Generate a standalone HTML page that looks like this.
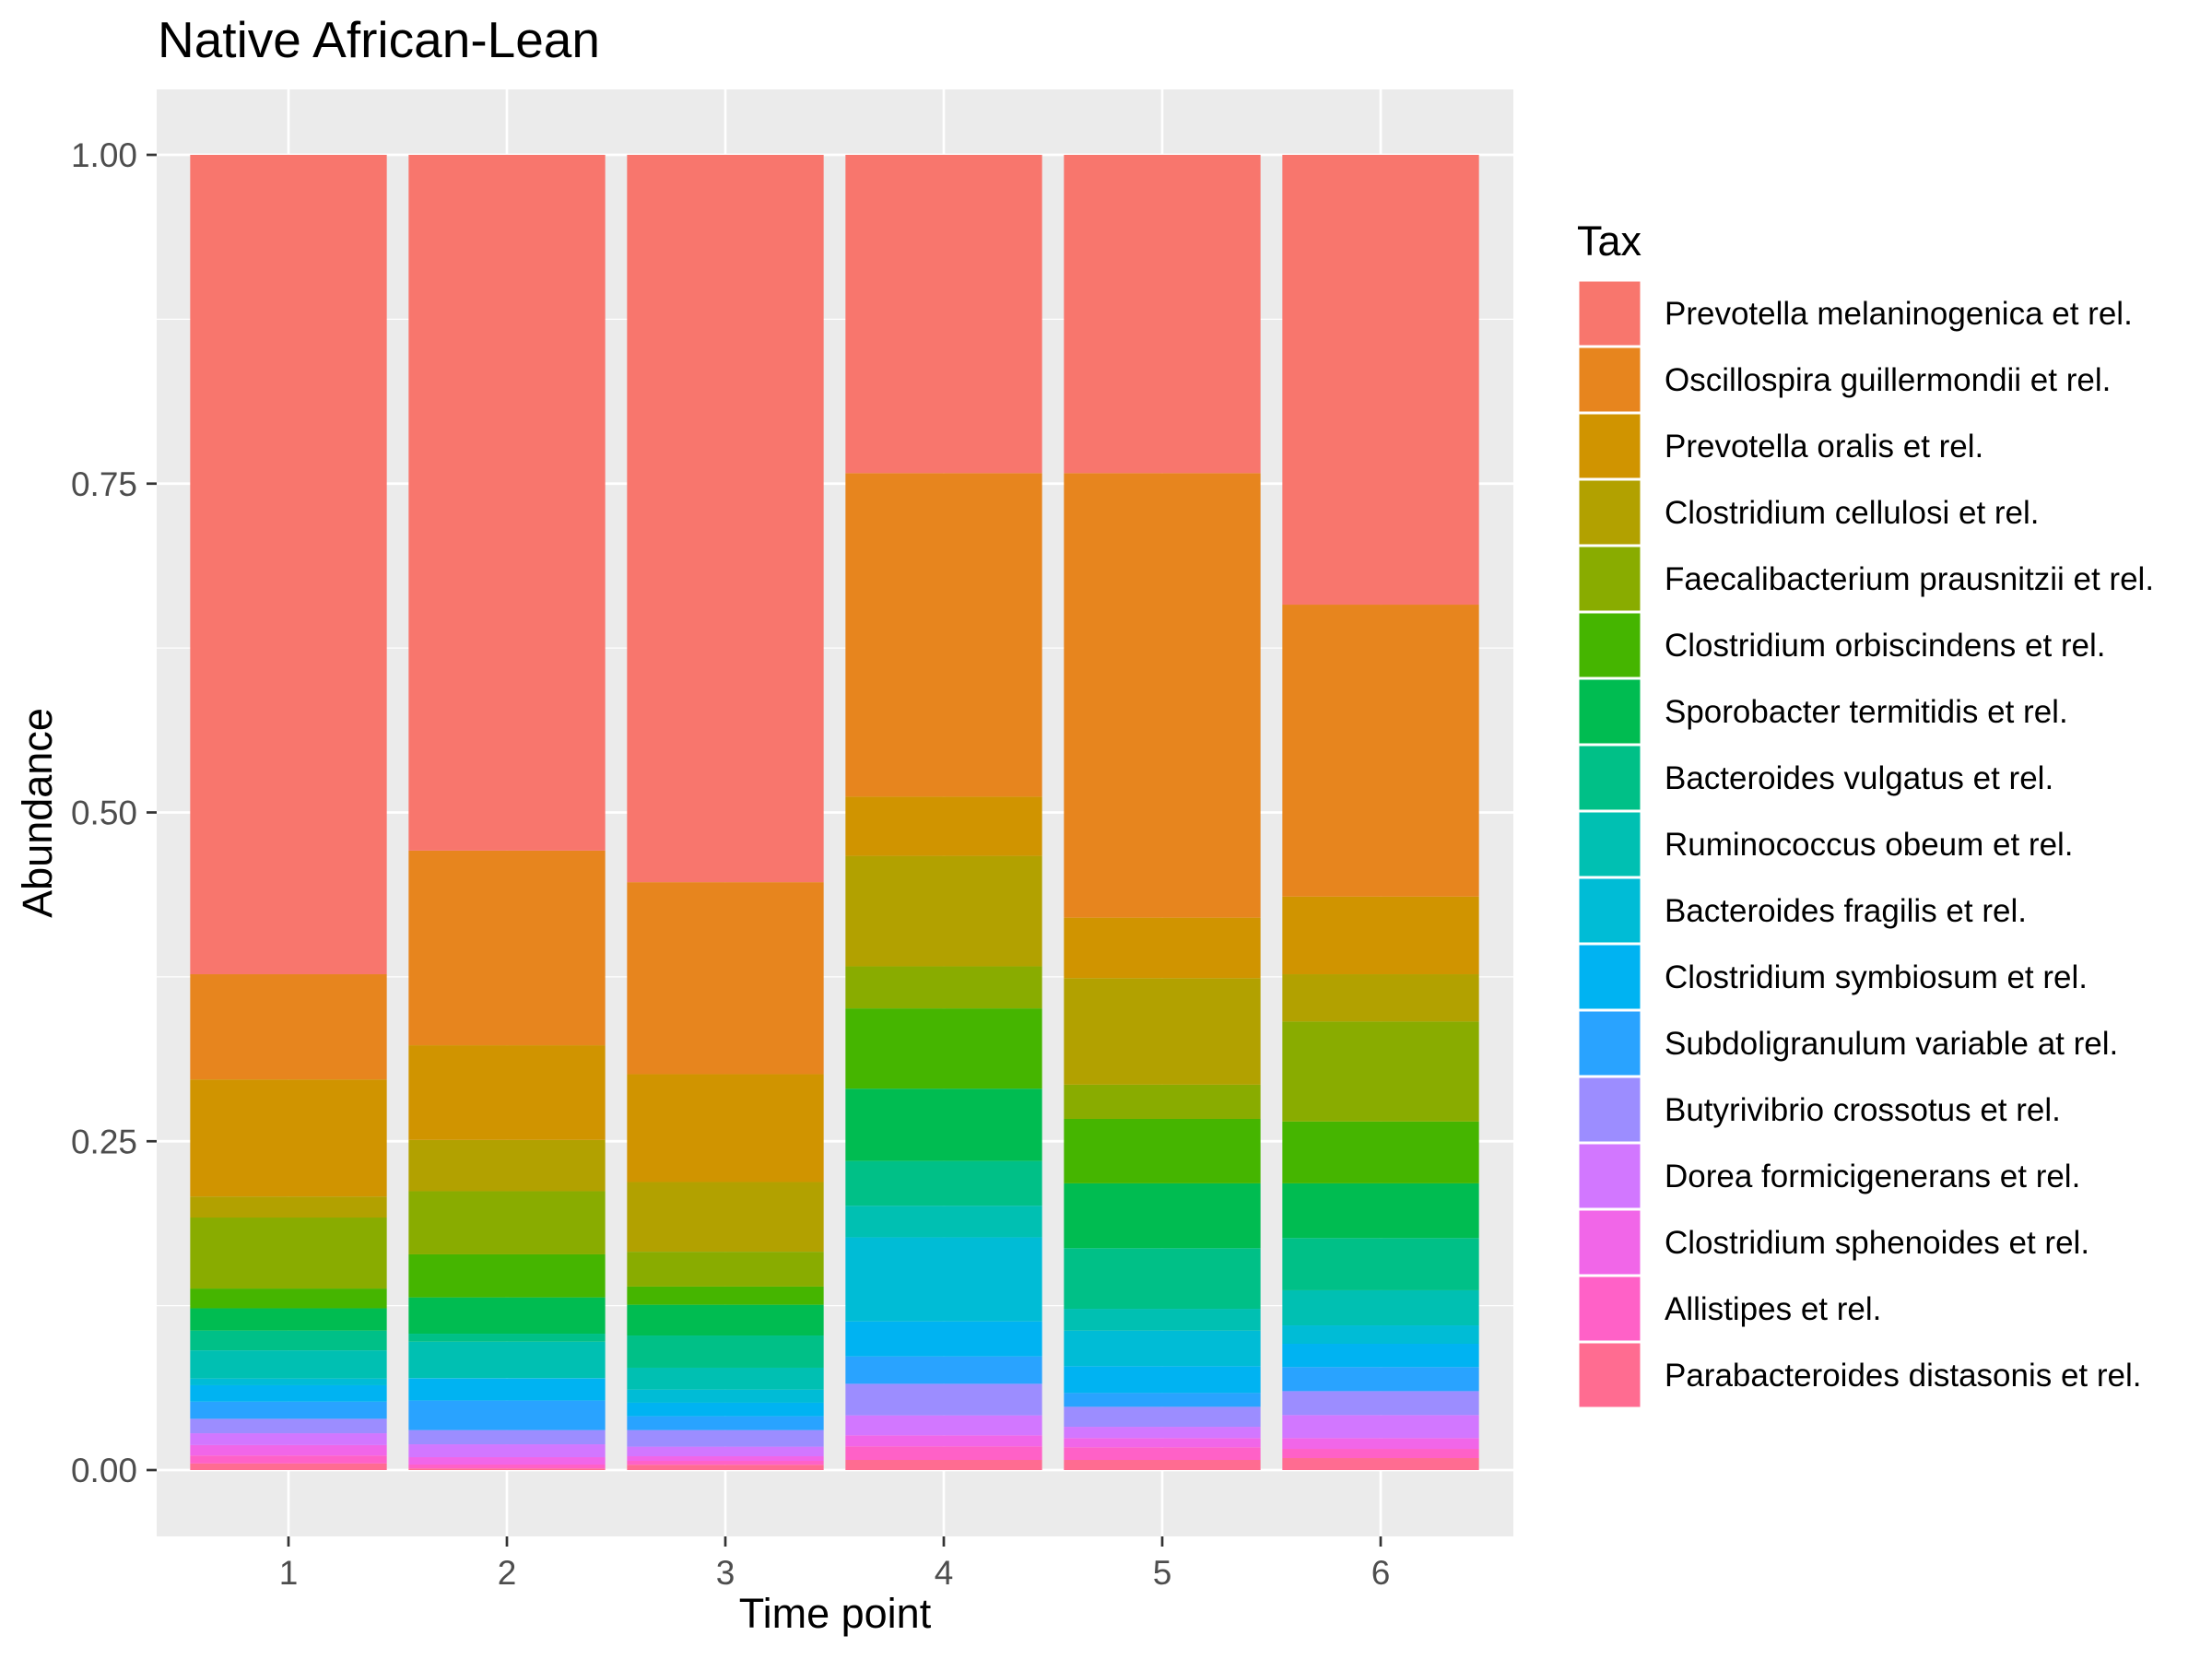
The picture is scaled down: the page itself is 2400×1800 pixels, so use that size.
<!DOCTYPE html>
<html><head><meta charset="utf-8"><style>
html,body{margin:0;padding:0;background:#fff;}
svg{display:block;font-family:"Liberation Sans",Arial,sans-serif;}
</style></head><body>
<svg id="chart" width="2400" height="1800" viewBox="0 0 2400 1800">
<text x="171" y="62" font-size="55" fill="#000">Native African-Lean</text>
<rect x="170" y="97" width="1472" height="1570" fill="#EBEBEB"/>
<g id="grid"></g><g id="bars"></g><g id="axes"></g><g id="legend"></g>
<text x="906" y="1766" font-size="45" text-anchor="middle" fill="#000">Time point</text>
<text transform="translate(56,882) rotate(-90)" font-size="45" text-anchor="middle" fill="#000">Abundance</text>
</svg>
<script>
const categories = ["1","2","3","4","5","6"];
const taxa = ["Prevotella melaninogenica et rel.","Oscillospira guillermondii et rel.","Prevotella oralis et rel.","Clostridium cellulosi et rel.","Faecalibacterium prausnitzii et rel.","Clostridium orbiscindens et rel.","Sporobacter termitidis et rel.","Bacteroides vulgatus et rel.","Ruminococcus obeum et rel.","Bacteroides fragilis et rel.","Clostridium symbiosum et rel.","Subdoligranulum variable at rel.","Butyrivibrio crossotus et rel.","Dorea formicigenerans et rel.","Clostridium sphenoides et rel.","Allistipes et rel.","Parabacteroides distasonis et rel."];
const colors = ["#F8766D","#E7851E","#D09400","#B2A100","#89AC00","#45B500","#00BC51","#00C087","#00C0B2","#00BCD6","#00B3F2","#29A3FF","#9C8DFF","#D277FF","#F166E8","#FF61C7","#FF6C91"];
const prevMel = [0.623,0.529,0.553,0.242,0.242,0.342];
const oscillo = [0.080,0.148,0.146,0.246,0.338,0.222];
const prevOralis = [0.089,0.072,0.082,0.045,0.046,0.059];
const cellulosi = [0.016,0.039,0.053,0.084,0.081,0.036];
const faecali = [0.054,0.048,0.0265,0.032,0.026,0.076];
const orbisc = [0.015,0.0327,0.0138,0.061,0.049,0.047];
const sporo = [0.017,0.0276,0.0234,0.055,0.0493,0.0416];
const vulgatus = [0.015,0.0061,0.0245,0.034,0.0461,0.0397];
const rumino = [0.0214,0.0276,0.0166,0.024,0.0166,0.0267];
const fragilis = [0.0051,0.0004,0.010,0.064,0.027,0.014];
const symbiosum = [0.0125,0.0168,0.0103,0.0266,0.0204,0.0177];
const subdoli = [0.013,0.0224,0.0105,0.0208,0.0105,0.0183];
const butyri = [0.011,0.0108,0.0126,0.024,0.0152,0.0182];
const dorea = [0.009,0.0098,0.0073,0.0152,0.0086,0.0175];
const sphen = [0.008,0.0056,0.0035,0.0084,0.007,0.0082];
const allis = [0.006,0.003,0.003,0.0103,0.0096,0.007];
const parab = [0.005,0.0012,0.004,0.0077,0.0077,0.0091];
const yTicks = [0,0.25,0.5,0.75,1];
const yTickLabels = ["0.00","0.25","0.50","0.75","1.00"];
const yMinor = [0.125,0.375,0.625,0.875];

const series = [prevMel,oscillo,prevOralis,cellulosi,faecali,orbisc,sporo,vulgatus,rumino,fragilis,symbiosum,subdoli,butyri,dorea,sphen,allis,parab];
const NS="http://www.w3.org/2000/svg";
const P={l:170,t:97,r:1642,b:1667};
const Y0=1595, YH=1427;
function yS(v){return Y0 - v*YH;}
const step=237, x1=313;
function xS(i){return x1 + i*step;}
const bw=0.9*step;
function mk(tag,attrs,parent){const e=document.createElementNS(NS,tag);for(const k in attrs)e.setAttribute(k,attrs[k]);parent.appendChild(e);return e;}
const grid=document.getElementById('grid'),bars=document.getElementById('bars'),axes=document.getElementById('axes'),legend=document.getElementById('legend');
yMinor.forEach(v=>{const l=mk('line',{x1:P.l,x2:P.r,y1:yS(v),y2:yS(v),stroke:'#fff','stroke-width':1.3},grid);

});
yTicks.forEach((v,i)=>{const l=mk('line',{x1:P.l,x2:P.r,y1:yS(v),y2:yS(v),stroke:'#fff','stroke-width':2.7},grid);


const t=mk('line',{x1:159,x2:170,y1:yS(v),y2:yS(v),stroke:'#333','stroke-width':2.7},axes);


const tx=mk('text',{x:149,y:yS(v)+13,'font-size':37,fill:'#4D4D4D','text-anchor':'end'},axes);tx.textContent=yTickLabels[i];

});
categories.forEach((c,i)=>{const x=xS(i);
const l=mk('line',{x1:x,x2:x,y1:P.t,y2:P.b,stroke:'#fff','stroke-width':2.7},grid);


const t=mk('line',{x1:x,x2:x,y1:P.b,y2:P.b+11,stroke:'#333','stroke-width':2.7},axes);


const tx=mk('text',{x:x,y:1719,'font-size':37,fill:'#4D4D4D','text-anchor':'middle'},axes);tx.textContent=c;


let cum=0;
for(let s=series.length-1;s>=0;s--){const v=series[s][i];const y0=yS(cum),y1=yS(cum+v);cum+=v;
const r=mk('rect',{x:x-bw/2,y:y1,width:bw,height:Math.max(0,y0-y1),fill:colors[s]},bars);

}
});
const lt=mk('text',{x:1711,y:277,'font-size':45,fill:'#000'},legend);lt.textContent='Tax';


taxa.forEach((n,i)=>{const y=304+i*72;
const k=mk('rect',{x:1712,y:y,width:69,height:72,fill:colors[i],stroke:'#fff','stroke-width':3},legend);


const t=mk('text',{x:1806,y:y+48,'font-size':35,fill:'#000'},legend);t.textContent=n;

});
</script>
</body></html>
